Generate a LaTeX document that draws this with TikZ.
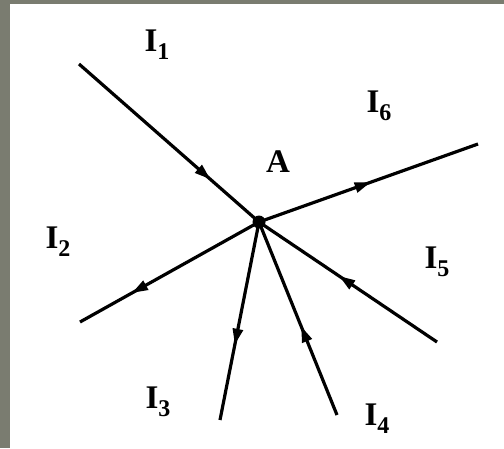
\documentclass[tikz,border=0pt]{standalone}
\usepackage{fontspec}
\setmainfont{Liberation Serif}
\usetikzlibrary{arrows.meta,decorations.markings}
\definecolor{frame}{RGB}{122,124,112}
\tikzset{
  wire/.style={line width=3.2pt},
  tipat/.style={postaction={decorate},decoration={markings,mark=at position #1 with {\arrow{Triangle[length=16pt,width=10pt]}}}},
  lbl/.style={font=\fontsize{33}{35}\selectfont\bfseries, inner sep=0pt},
}
\newcommand{\cur}[1]{I\raisebox{-8pt}{\fontsize{24}{26}\selectfont #1}}
\begin{document}
\begin{tikzpicture}[x=1pt,y=-1pt]
\useasboundingbox (0,0) rectangle (504,448);
\fill[frame] (0,0) rectangle (504,448);
\fill[white] (10,4) rectangle (504,448);
\coordinate (A) at (259,222);
\coordinate (e1) at (79,64);
\coordinate (e6) at (478,144);
\coordinate (e2) at (80,322);
\coordinate (e3) at (220,420);
\coordinate (e4) at (337,415);
\coordinate (e5) at (437,342);
\draw[wire,tipat=0.73] (e1) -- (A);
\draw[wire,tipat=0.51] (A) -- (e6);
\draw[wire,tipat=0.71] (A) -- (e2);
\draw[wire,tipat=0.62] (A) -- (e3);
\draw[wire,tipat=0.46] (e4) -- (A);
\draw[wire,tipat=0.55] (e5) -- (A);
\fill (A) circle (6.5pt);
\node[lbl] (lA) at (278,162) {A};
\node[lbl] (l1) at (157,45) {\cur{1}};
\node[lbl] (l6) at (379,106) {\cur{6}};
\node[lbl] (l2) at (58,242) {\cur{2}};
\node[lbl] (l5) at (437,262) {\cur{5}};
\node[lbl] (l3) at (158,402) {\cur{3}};
\node[lbl] (l4) at (377,419) {\cur{4}};
\end{tikzpicture}
\end{document}
